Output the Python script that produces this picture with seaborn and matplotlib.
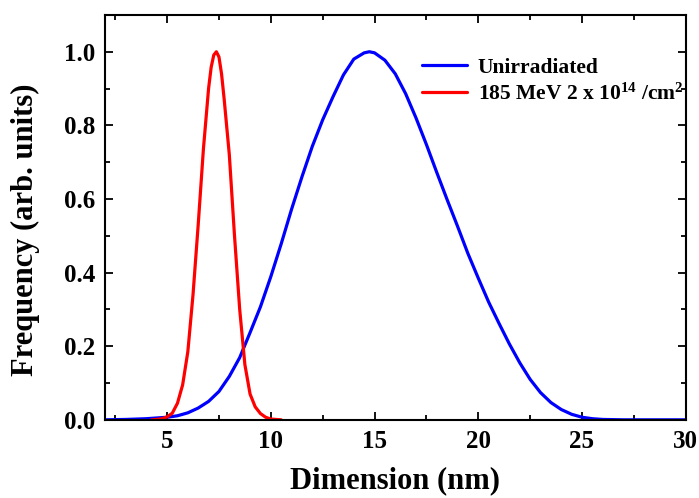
import numpy as np
import pandas as pd
import seaborn as sns
import matplotlib
matplotlib.use("Agg")
import matplotlib.pyplot as plt
from matplotlib.ticker import MultipleLocator, FormatStrFormatter

# size distributions
x_unirr = [2, 3, 4, 5, 5.5, 6, 6.5, 7, 7.5, 8, 8.5, 9, 9.5, 10, 10.5, 11, 11.5,
           12, 12.5, 13, 13.5, 14, 14.5, 14.75, 15, 15.5, 16, 16.5, 17, 17.5, 18,
           18.5, 19, 19.5, 20, 20.5, 21, 21.5, 22, 22.5, 23, 23.5, 24, 24.5, 25,
           25.5, 26, 27, 28, 30]
y_unirr = [0.0, 0.001, 0.003, 0.007, 0.011, 0.019, 0.032, 0.050, 0.077, 0.118,
           0.169, 0.237, 0.307, 0.389, 0.478, 0.572, 0.660, 0.743, 0.815, 0.878,
           0.937, 0.980, 0.997, 1.0, 0.997, 0.977, 0.940, 0.886, 0.820, 0.748,
           0.672, 0.598, 0.526, 0.452, 0.385, 0.320, 0.262, 0.206, 0.155, 0.110,
           0.074, 0.047, 0.028, 0.015, 0.007, 0.003, 0.001, 0.0, 0.0, 0.0]

x_irr = [4.25, 4.5, 4.75, 5.0, 5.25, 5.5, 5.75, 6.0, 6.25, 6.5, 6.75, 7.0, 7.125,
         7.25, 7.375, 7.5, 7.625, 7.75, 8.0, 8.25, 8.5, 8.75, 9.0, 9.25, 9.5,
         9.75, 10.0, 10.25, 10.5]
y_irr = [0.0, 0.001, 0.003, 0.008, 0.018, 0.045, 0.095, 0.185, 0.340, 0.530,
         0.735, 0.900, 0.958, 0.991, 1.0, 0.986, 0.940, 0.872, 0.720, 0.500,
         0.300, 0.150, 0.070, 0.035, 0.017, 0.007, 0.002, 0.001, 0.0]

labels = ["Unirradiated", "185 MeV 2 x 10$^{14}$ /cm$^{2}$"]
colors = ["#0000ff", "#ff0000"]

sns.set_style("ticks")
plt.rcParams["font.family"] = ["Liberation Serif", "DejaVu Serif"]
plt.rcParams["font.weight"] = "bold"
plt.rcParams["text.color"] = "black"
plt.rcParams["axes.labelcolor"] = "black"
plt.rcParams["xtick.color"] = "black"
plt.rcParams["ytick.color"] = "black"
plt.rcParams["axes.edgecolor"] = "black"
plt.rcParams["mathtext.fontset"] = "custom"
plt.rcParams["mathtext.rm"] = "Liberation Serif:bold"
plt.rcParams["mathtext.bf"] = "Liberation Serif:bold"
plt.rcParams["mathtext.it"] = "Liberation Serif:bold"

df = pd.concat([
    pd.DataFrame({"x": x_unirr, "y": y_unirr, "s": labels[0]}),
    pd.DataFrame({"x": x_irr, "y": y_irr, "s": labels[1]}),
], ignore_index=True)

fig = plt.figure(figsize=(6.99, 4.98), dpi=100)
ax = fig.add_axes([0.150, 0.157, 0.831, 0.813])

sns.lineplot(data=df, x="x", y="y", hue="s", palette=colors, linewidth=2.3,
             sort=False, estimator=None, ax=ax)

ax.set_xlim(2, 30)
ax.set_ylim(0, 1.1)
ax.xaxis.set_major_locator(MultipleLocator(5))
ax.xaxis.set_minor_locator(MultipleLocator(2.5))
ax.yaxis.set_major_locator(MultipleLocator(0.2))
ax.yaxis.set_minor_locator(MultipleLocator(0.1))
ax.yaxis.set_major_formatter(FormatStrFormatter("%.1f"))
ax.tick_params(which="both", direction="in", top=True, right=True, width=1.3,
               colors="black")
ax.tick_params(which="major", length=6, labelsize=18, pad=7)
ax.tick_params(which="minor", length=3.5)
for lab in ax.get_xticklabels() + ax.get_yticklabels():
    lab.set_fontweight("bold")
for sp in ax.spines.values():
    sp.set_linewidth(1.5)
    sp.set_color("black")

ax.set_xlabel("Dimension (nm)", fontsize=22, fontweight="bold", labelpad=10)
ax.set_ylabel("Frequency (arb. units)", fontsize=22, fontweight="bold")
ax.yaxis.set_label_coords(-0.112, 0.47)

leg = ax.legend(loc="upper left", bbox_to_anchor=(0.512, 0.942), frameon=False,
                prop={"size": 15.5, "weight": "bold"}, handlelength=2.1,
                handletextpad=0.5, labelspacing=0.25)
for line in leg.get_lines():
    line.set_linewidth(2.3)

fig.savefig("out.png", dpi=100)
